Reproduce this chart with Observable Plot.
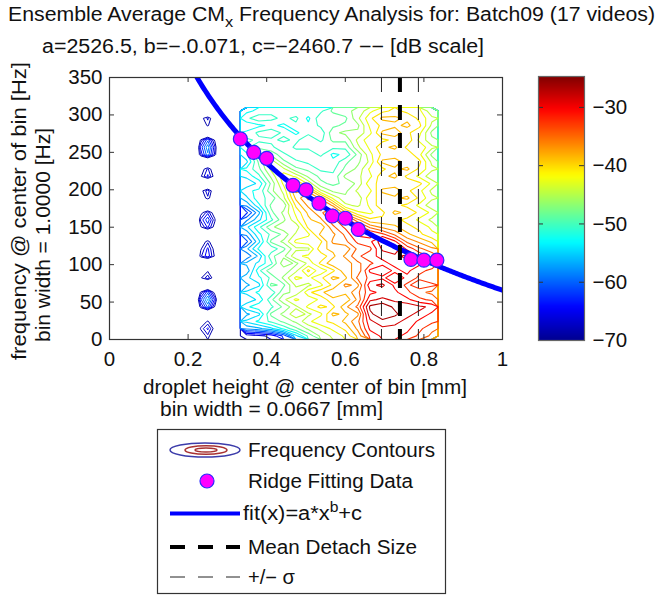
<!DOCTYPE html>
<html>
<head>
<meta charset="utf-8">
<script src="https://cdn.jsdelivr.net/npm/d3@7"></script>
<script src="https://cdn.jsdelivr.net/npm/@observablehq/plot@0.6"></script>
<style>
  body { margin: 0; background: #fff; }
  #chart { position: relative; width: 662px; height: 596px; overflow: hidden; background: #fff; }
  #chart > svg, #chart > figure { position: absolute; margin: 0; }
  #overlay { left: 0; top: 0; pointer-events: none; }
</style>
</head>
<body>
<div id="chart"></div>
<script>
const FONT = '"Liberation Sans", Arial, Helvetica, sans-serif';

// ---- Ensemble-averaged CMx spectra (dB), one array per droplet-height bin ----
// Height bin centres (mm); each spectrum runs 0 → 310 Hz in 32 rows (low to high).
const heightBins = [0.333, 0.367, 0.400, 0.433, 0.467, 0.500, 0.533, 0.567,
                    0.600, 0.633, 0.667, 0.700, 0.733, 0.767, 0.800, 0.833];
const freqSpan = [0, 310];
const spectra = [
  [-68,-58,-54,-57,-53,-56,-54,-57,-55,-58,-56,-60,-57,-61,-58,-55,-59,-63,-58,-55,-53,-56,-54,-52,-55,-53,-51,-50,-52,-54,-51,-53],
  [-67,-57,-52,-55,-51,-54,-52,-55,-53,-51,-54,-56,-52,-55,-53,-51,-55,-57,-53,-51,-52,-54,-51,-49,-48,-46,-49,-51,-50,-53,-49,-52],
  [-66,-55,-50,-48,-51,-49,-52,-48,-50,-47,-51,-49,-52,-48,-50,-47,-51,-49,-48,-50,-47,-48,-46,-44,-43,-47,-50,-51,-49,-52,-50,-51],
  [-62,-52,-48,-46,-48,-45,-47,-49,-46,-48,-45,-47,-49,-46,-48,-45,-47,-46,-48,-45,-44,-42,-41,-44,-48,-50,-52,-50,-51,-53,-51,-52],
  [-55,-49,-46,-43,-45,-42,-46,-44,-42,-45,-47,-43,-45,-42,-44,-46,-43,-42,-40,-38,-36,-38,-43,-48,-50,-52,-50,-51,-53,-51,-50,-52],
  [-50,-46,-43,-45,-42,-44,-41,-45,-43,-40,-44,-42,-45,-41,-43,-40,-39,-38,-36,-34,-37,-43,-47,-49,-51,-52,-50,-49,-51,-52,-53,-51],
  [-46,-44,-41,-43,-40,-42,-39,-43,-41,-44,-40,-42,-39,-41,-38,-40,-37,-35,-33,-37,-44,-48,-49,-51,-52,-50,-49,-51,-52,-50,-49,-51],
  [-44,-42,-40,-38,-41,-39,-37,-40,-38,-41,-37,-39,-38,-36,-37,-35,-33,-32,-37,-43,-47,-49,-50,-51,-52,-53,-50,-48,-47,-49,-50,-48],
  [-42,-40,-38,-39,-37,-40,-38,-36,-39,-37,-38,-36,-38,-35,-34,-32,-31,-38,-44,-46,-47,-48,-46,-48,-49,-52,-50,-48,-46,-48,-49,-47],
  [-38,-36,-35,-37,-34,-36,-35,-37,-34,-36,-35,-33,-34,-32,-30,-31,-36,-42,-45,-46,-44,-46,-45,-46,-47,-48,-45,-44,-46,-47,-45,-46],
  [-32,-30,-29,-27,-26,-29,-31,-29,-32,-30,-33,-31,-33,-31,-30,-35,-40,-43,-42,-41,-43,-41,-43,-42,-44,-43,-42,-41,-43,-42,-41,-43],
  [-30,-29,-27,-25,-25,-28,-30,-28,-31,-29,-31,-30,-28,-27,-32,-37,-40,-41,-39,-40,-38,-40,-39,-41,-38,-40,-39,-41,-38,-40,-38,-41],
  [-30,-29,-28,-26,-27,-29,-30,-31,-29,-31,-30,-29,-27,-30,-35,-38,-40,-38,-40,-39,-37,-40,-38,-39,-37,-40,-38,-40,-37,-39,-38,-40],
  [-31,-30,-29,-28,-27,-30,-32,-33,-31,-30,-29,-28,-31,-35,-38,-40,-41,-39,-41,-38,-40,-39,-41,-38,-40,-39,-41,-39,-40,-38,-39,-41],
  [-33,-32,-31,-29,-28,-32,-34,-31,-33,-32,-30,-31,-34,-37,-40,-41,-43,-41,-43,-41,-42,-40,-43,-41,-40,-42,-41,-43,-42,-40,-41,-42],
  [-35,-34,-32,-31,-29,-33,-35,-32,-34,-33,-31,-33,-36,-39,-42,-43,-45,-43,-46,-44,-45,-43,-46,-44,-45,-47,-44,-46,-47,-45,-44,-46]
];

// Sparse low-level band of a few early videos, around 0.23–0.27 mm
const sparseBins = [0.232, 0.250, 0.268];
const sparseSpectra = [
  [-72,-68,-72,-80,-67,-63,-68,-80,-69,-73,-80,-67,-69,-72,-80,-69,-66,-70,-80,-72,-70,-80,-69,-71,-80,-66,-64,-68,-80,-72,-70,-80],
  [-67,-64,-68,-80,-60,-56,-61,-80,-65,-69,-80,-63,-64,-67,-80,-64,-61,-65,-80,-67,-65,-80,-64,-66,-80,-59,-57,-61,-80,-68,-66,-80],
  [-73,-70,-73,-80,-69,-65,-70,-80,-71,-75,-80,-69,-70,-73,-80,-70,-68,-71,-80,-73,-72,-80,-70,-72,-80,-67,-66,-69,-80,-73,-72,-80]
];
const noiseFloor = -80;

// Contour levels (dB), every 2 dB, and colour limits of the jet map
const contourLevels = [-68.5, -66.5, -64.5, -62.5, -60.5, -58.5, -56.5, -54.5,
                       -52.5, -50.5, -48.5, -46.5, -44.5, -42.5, -40.5, -38.5,
                       -36.5, -34.5, -32.5, -30.5, -28.5, -26.5];
const clim = [-70, -24.7];
const jet = ["#00008f", "#0000ff", "#007fff", "#00ffff", "#7fff7f",
             "#ffff00", "#ff7f00", "#ff0000", "#7f0000"];

// Ridge points used for the power-law fit
const ridgeHeight = [0.333, 0.367, 0.400, 0.467, 0.500, 0.533, 0.567, 0.600, 0.633, 0.767, 0.800, 0.833];
const ridgeFreq   = [268,   250,   242,   206,   200,   182,   165,   162,   147,   107,   106,   106];

// fit(x) = a*x^b + c
const fitA = 2526.5, fitB = -0.071, fitC = -2460.7;

// Mean detach size and its standard deviation (mm)
const detachMean = 0.739, detachSigma = 0.047;

// Axis ticks
const xTicks = [0, 0.2, 0.4, 0.6, 0.8, 1];
const yTicks = [0, 50, 100, 150, 200, 250, 300, 350];
const cbarTicks = [-30, -40, -50, -60, -70];

// ---- derived tables ----
const nRows = spectra[0].length;
const grid = [];
for (let r = 0; r < nRows; r++) for (const col of spectra) grid.push(col[r]);

// pad the sparse band with the noise floor so its contours close on themselves
const floorCol = sparseSpectra[0].map(() => noiseFloor);
const sparseCols = [floorCol, ...sparseSpectra, floorCol];
const sparseGrid = [];
for (let r = 0; r < nRows; r++) for (const col of sparseCols) sparseGrid.push(col[r]);
const sparseStep = sparseBins[1] - sparseBins[0];

const ridge = ridgeHeight.map((x, i) => ({x, f: ridgeFreq[i]}));
const fitCurve = d3.range(0.2, 1.0001, 0.004).map(x => ({x, f: fitA * Math.pow(x, fitB) + fitC}));

const colorScale = {
  type: "linear",
  domain: jet.map((_, i) => clim[0] + i * (clim[1] - clim[0]) / (jet.length - 1)),
  range: jet,
  interpolate: "rgb",
  clamp: true
};

const minus = d => (d < 0 ? "\u2212" + Math.abs(d) : String(d));
const AX = "#333";

const chart = document.getElementById("chart");

// ---- main contour axes ----
const main = Plot.plot({
  width: 520, height: 420,
  marginLeft: 109, marginRight: 18, marginTop: 77, marginBottom: 81,
  style: {fontFamily: FONT, fontSize: "20px", color: "#111", background: "transparent", overflow: "visible"},
  x: {domain: [0, 1]},
  y: {domain: [0, 350]},
  color: colorScale,
  marks: [
    Plot.contour(grid, {
      width: spectra.length, height: nRows,
      x1: heightBins[0], x2: heightBins[heightBins.length - 1] + 0.003,
      y1: freqSpan[0], y2: freqSpan[1],
      stroke: Plot.identity, thresholds: contourLevels, strokeWidth: 1.1
    }),
    Plot.contour(sparseGrid, {
      width: sparseCols.length, height: nRows,
      x1: sparseBins[0] - 1.5 * sparseStep, x2: sparseBins[2] + 1.5 * sparseStep,
      y1: freqSpan[0], y2: freqSpan[1],
      stroke: Plot.identity, thresholds: contourLevels, strokeWidth: 1
    }),
    Plot.line(fitCurve, {x: "x", y: "f", stroke: "#0000ff", strokeWidth: 5, clip: true}),
    Plot.ruleX([detachMean - detachSigma, detachMean + detachSigma], {stroke: "#222", strokeWidth: 1, strokeDasharray: "15,13"}),
    Plot.ruleX([detachMean], {stroke: "#000", strokeWidth: 4, strokeDasharray: "15,13"}),
    Plot.dot(ridge, {x: "x", y: "f", r: 7, fill: "#ff00ff", stroke: "#2a2aff", strokeWidth: 1.2}),
    // inward ticks on all four sides
    Plot.tickX(xTicks, {x: d => d, insetTop: 257, stroke: AX}),
    Plot.tickX(xTicks, {x: d => d, insetBottom: 257, stroke: AX}),
    Plot.tickY(yTicks, {y: d => d, insetRight: 388, stroke: AX}),
    Plot.tickY(yTicks, {y: d => d, insetLeft: 388, stroke: AX}),
    Plot.axisX(xTicks, {tickSize: 0, tickPadding: 12, tickFormat: d => String(d), label: null, fontSize: 20.5}),
    Plot.axisY(yTicks, {tickSize: 0, tickPadding: 7, label: null, fontSize: 20.5}),
    Plot.frame({stroke: AX, strokeWidth: 1.2})
  ]
});
main.style.left = "0px";
main.style.top = "0px";
chart.appendChild(main);

// ---- colour bar ----
const cbar = Plot.plot({
  width: 124, height: 284,
  marginLeft: 0, marginRight: 78, marginTop: 10, marginBottom: 10,
  style: {fontFamily: FONT, fontSize: "20.5px", color: "#111", background: "transparent", overflow: "visible"},
  x: {domain: [0, 1], axis: null},
  y: {domain: clim},
  color: colorScale,
  marks: [
    Plot.raster({x1: 0, x2: 1, y1: clim[0], y2: clim[1], width: 1, height: 64, fill: (x, y) => y}),
    Plot.tickY(cbarTicks, {y: d => d, insetRight: 41, stroke: AX}),
    Plot.tickY(cbarTicks, {y: d => d, insetLeft: 41, stroke: AX}),
    Plot.axisY(cbarTicks, {anchor: "right", tickSize: 0, tickPadding: 8, tickFormat: minus, label: null, fontSize: 20.5}),
    Plot.frame({stroke: "#666", strokeWidth: 1.2})
  ]
});
cbar.style.left = "538px";
cbar.style.top = "66px";
chart.appendChild(cbar);

// ---- titles, axis labels and legend ----
const NS = "http://www.w3.org/2000/svg";
const overlay = document.createElementNS(NS, "svg");
overlay.setAttribute("id", "overlay");
overlay.setAttribute("width", 662);
overlay.setAttribute("height", 596);
overlay.setAttribute("font-family", FONT);
overlay.setAttribute("font-size", 19.5);
overlay.setAttribute("fill", "#111");
const fit = 'lengthAdjust="spacingAndGlyphs"';
overlay.innerHTML = `
  <text x="8" y="21" textLength="647" ${fit}>Ensemble Average CM<tspan dy="6" font-size="15">x</tspan><tspan dy="-6"> Frequency Analysis for: Batch09 (17 videos)</tspan></text>
  <text x="42" y="53" textLength="442" ${fit}>a=2526.5, b=\u2212.0.071, c=\u22122460.7 \u2212\u2212 [dB scale]</text>
  <text x="143" y="393.5" textLength="324" ${fit}>droplet height @ center of bin [mm]</text>
  <text x="160" y="416" textLength="223" ${fit}>bin width = 0.0667 [mm]</text>
  <text transform="translate(26,360) rotate(-90)" textLength="298" ${fit}>frequency @ center of bin [Hz]</text>
  <text transform="translate(49.5,342) rotate(-90)" textLength="214" ${fit}>bin width = 1.0000 [Hz]</text>

  <rect x="157.5" y="429.5" width="288" height="164" fill="#fff" stroke="#333" stroke-width="1.2"/>
  <ellipse cx="205" cy="450" rx="35" ry="7" fill="none" stroke="#3c3caa" stroke-width="1.5"/>
  <ellipse cx="206" cy="450" rx="21" ry="4.3" fill="none" stroke="#a83232" stroke-width="1.5"/>
  <ellipse cx="206" cy="450" rx="11" ry="2" fill="none" stroke="#a83232" stroke-width="1.5"/>
  <text x="248" y="457" textLength="187" ${fit}>Frequency Contours</text>
  <circle cx="207" cy="481" r="7" fill="#ff00ff" stroke="#2a2aff" stroke-width="1.2"/>
  <text x="248" y="488" textLength="165" ${fit}>Ridge Fitting Data</text>
  <line x1="170" x2="240" y1="513.5" y2="513.5" stroke="#0000ff" stroke-width="4"/>
  <text x="243" y="520" textLength="119" ${fit}>fit(x)=a*x<tspan dy="-8" font-size="14">b</tspan><tspan dy="8">+c</tspan></text>
  <line x1="170" x2="240" y1="547" y2="547" stroke="#000" stroke-width="4" stroke-dasharray="15,13"/>
  <text x="248" y="554" textLength="169" ${fit}>Mean Detach Size</text>
  <line x1="170" x2="240" y1="577" y2="577" stroke="#222" stroke-width="1" stroke-dasharray="15,13"/>
  <text x="248" y="584" textLength="47" ${fit}>+/\u2212 \u03c3</text>
`;
chart.appendChild(overlay);
</script>
</body>
</html>
